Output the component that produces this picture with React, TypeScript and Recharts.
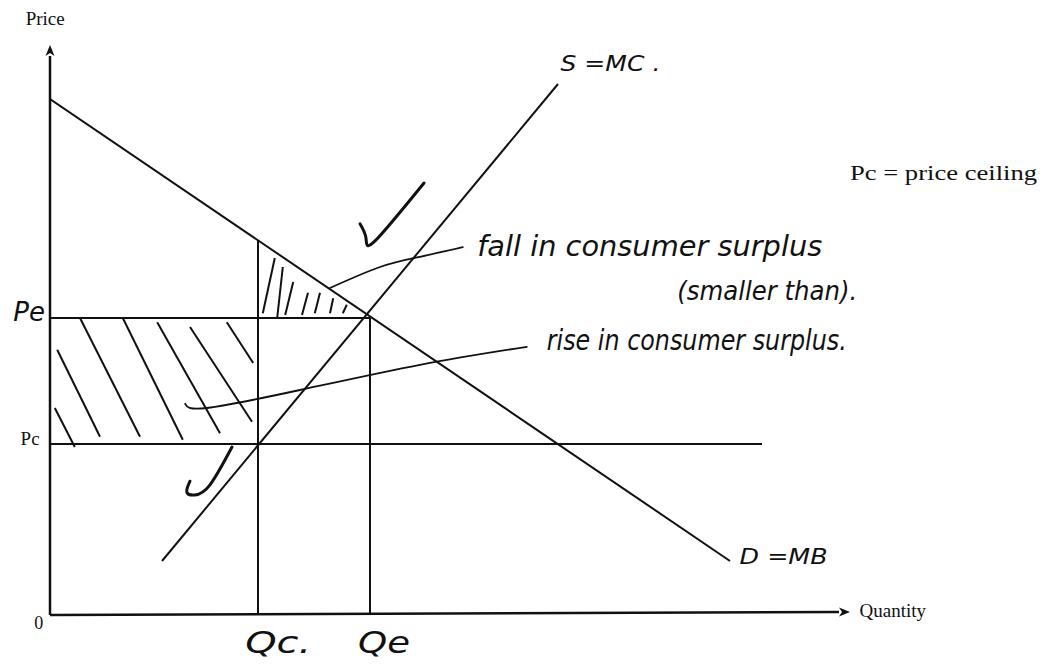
import React from "react";
import { ComposedChart, XAxis, YAxis, Line, ReferenceLine, ReferenceDot } from "recharts";

// curves (quantity q, price p)
const demand = [
  { q: 0, p: 86 },
  { q: 85, p: 9 },
];
const supply = [
  { q: 14, p: 9 },
  { q: 63.5, p: 88.5 },
];

// key levels
const qc = 26;
const qe = 40;
const pc = 28.5;
const pe = 49.5;
const pcEnd = 89;
const demandAtQc = 62.4;

// hatch strokes [q1, p1, q2, p2]
const rectHatch = [
  [0.9, 44.2, 6.25, 29.7],
  [0.6, 34.5, 3.1, 28],
  [3.75, 49.5, 11.25, 29.7],
  [9.1, 49.5, 16.6, 29.2],
  [13.4, 48.8, 21.25, 30.3],
  [17.5, 48, 25.25, 32.2],
  [22.1, 48.8, 25.4, 42],
];
const triHatch = [
  [28.1, 59.5, 26.6, 50.3],
  [29.1, 58, 28.4, 49.5],
  [30.4, 55.5, 29.4, 50],
  [32.25, 53.7, 31.5, 50],
  [33.75, 53.7, 33.1, 50.3],
  [35.4, 52.8, 35, 50.3],
  [37.1, 51.7, 36.6, 50.3],
];

// hand-drawn pointers and ticks
const fallPointer = [
  { q: 35, p: 54.5 },
  { q: 41.25, p: 58 },
  { q: 46.25, p: 59.7 },
  { q: 51.6, p: 61.3 },
];
const risePointer = [
  { q: 16.9, p: 35.2 },
  { q: 19.6, p: 34.5 },
  { q: 31.25, p: 37.5 },
  { q: 46.25, p: 41.7 },
  { q: 59.6, p: 44.7 },
];
const tick1 = [
  { q: 38.75, p: 65.2 },
  { q: 39.5, p: 62.8 },
  { q: 40.6, p: 62.3 },
  { q: 46.75, p: 72 },
];
const tick2 = [
  { q: 17.5, p: 22.3 },
  { q: 17.1, p: 20.5 },
  { q: 18.1, p: 20 },
  { q: 20, p: 21.7 },
  { q: 22.75, p: 28 },
];

const ink = "#111";
const serif = "'Liberation Serif', 'Times New Roman', serif";
const hand = "'DejaVu Sans', sans-serif";

const Arrow = (props: any) => {
  const { x1, y1, x2, y2 } = props;
  const a = Math.atan2(y2 - y1, x2 - x1);
  const L = 11;
  const W = 4.5;
  const bx = x2 - L * Math.cos(a);
  const by = y2 - L * Math.sin(a);
  const px = -Math.sin(a) * W;
  const py = Math.cos(a) * W;
  return (
    <g>
      <line x1={x1} y1={y1} x2={bx} y2={by} stroke={ink} strokeWidth={2.5} />
      <polygon points={`${x2},${y2} ${bx + px},${by + py} ${bx + 3 * Math.cos(a)},${by + 3 * Math.sin(a)} ${bx - px},${by - py}`} fill={ink} />
    </g>
  );
};

const note =
  (text: string, opts: { size: number; font?: string; anchor?: string; len?: number; italic?: boolean }) =>
  (p: any) =>
    (
      <text
        x={p.cx}
        y={p.cy}
        fontSize={opts.size}
        fontFamily={opts.font || serif}
        textAnchor={opts.anchor || "start"}
        dominantBaseline="central"
        fill={ink}
        fontStyle={opts.italic ? "italic" : "normal"}
        textLength={opts.len}
        lengthAdjust={opts.len ? "spacingAndGlyphs" : undefined}
      >
        {text}
      </text>
    );

const seg = (a: number[], i: number, w = 2) => (
  <ReferenceLine
    key={i}
    segment={[
      { x: a[0], y: a[1] },
      { x: a[2], y: a[3] },
    ]}
    stroke={ink}
    strokeWidth={w}
    ifOverflow="visible"
  />
);

const handLine = (data: any[], key: string, w = 2) => (
  <Line
    key={key}
    data={data}
    dataKey="p"
    type="natural"
    stroke={ink}
    strokeWidth={w}
    dot={false}
    isAnimationActive={false}
    strokeLinecap="round"
  />
);

export default function App() {
  return (
    <ComposedChart width={1042} height={661} margin={{ top: 7, right: 200, bottom: 54, left: 42 }}>
      <XAxis type="number" dataKey="q" domain={[0, 100]} hide allowDataOverflow />
      <YAxis type="number" domain={[0, 100]} hide allowDataOverflow />

      {/* axes */}
      <ReferenceLine segment={[{ x: 0, y: 0 }, { x: 0, y: 95 }]} shape={Arrow} ifOverflow="visible" />
      <ReferenceLine segment={[{ x: 0, y: 0 }, { x: 100, y: 0.5 }]} shape={Arrow} ifOverflow="visible" />

      {/* guides */}
      {seg([0, pc, pcEnd, pc], 101, 2)}
      {seg([0, pe, qe, pe], 102, 2)}
      {seg([qc, 0, qc, demandAtQc], 103, 2)}
      {seg([qe, 0, qe, pe], 104, 2)}

      {/* hatching */}
      {rectHatch.map((h, i) => seg(h, i, 2))}
      {triHatch.map((h, i) => seg(h, 20 + i, 2))}

      <Line data={demand} dataKey="p" type="linear" stroke={ink} strokeWidth={2} dot={false} isAnimationActive={false} />
      <Line data={supply} dataKey="p" type="linear" stroke={ink} strokeWidth={2} dot={false} isAnimationActive={false} />

      {handLine(fallPointer, "fall", 1.8)}
      {handLine(risePointer, "rise", 1.8)}
      {handLine(tick1, "t1", 3)}
      {handLine(tick2, "t2", 3)}

      {/* printed labels */}
      <ReferenceDot x={-0.6} y={99.5} r={1} ifOverflow="visible" shape={note("Price", { size: 19, anchor: "middle" })} />
      <ReferenceDot x={-1.4} y={-1.3} r={1} ifOverflow="visible" shape={note("0", { size: 18, anchor: "middle" })} />
      <ReferenceDot x={101.2} y={0.8} r={1} ifOverflow="visible" shape={note("Quantity", { size: 19 })} />
      <ReferenceDot x={-1.3} y={29.5} r={1} ifOverflow="visible" shape={note("Pc", { size: 19, anchor: "end" })} />
      <ReferenceDot x={100} y={73.7} r={1} ifOverflow="visible" shape={note("Pc = price ceiling", { size: 20, len: 187 })} />

      {/* handwritten labels */}
      <ReferenceDot x={-2.6} y={50.5} r={1} ifOverflow="visible" shape={note("Pe", { size: 26, font: hand, anchor: "middle", italic: true })} />
      <ReferenceDot x={24.4} y={-4.6} r={1} ifOverflow="visible" shape={note("Qc.", { size: 30, font: hand, italic: true, len: 66 })} />
      <ReferenceDot x={38.5} y={-4.6} r={1} ifOverflow="visible" shape={note("Qe", { size: 30, font: hand, italic: true, len: 52 })} />
      <ReferenceDot x={63.8} y={92} r={1} ifOverflow="visible" shape={note("S =MC .", { size: 22, font: hand, italic: true, len: 100 })} />
      <ReferenceDot x={86.2} y={9.7} r={1} ifOverflow="visible" shape={note("D =MB", { size: 22, font: hand, italic: true, len: 88 })} />
      <ReferenceDot x={53.4} y={61.5} r={1} ifOverflow="visible" shape={note("fall in consumer surplus", { size: 28, font: hand, italic: true, len: 345 })} />
      <ReferenceDot x={78.4} y={54} r={1} ifOverflow="visible" shape={note("(smaller than).", { size: 26, font: hand, italic: true, len: 180 })} />
      <ReferenceDot x={62.1} y={45.8} r={1} ifOverflow="visible" shape={note("rise in consumer surplus.", { size: 28, font: hand, italic: true, len: 300 })} />
    </ComposedChart>
  );
}
